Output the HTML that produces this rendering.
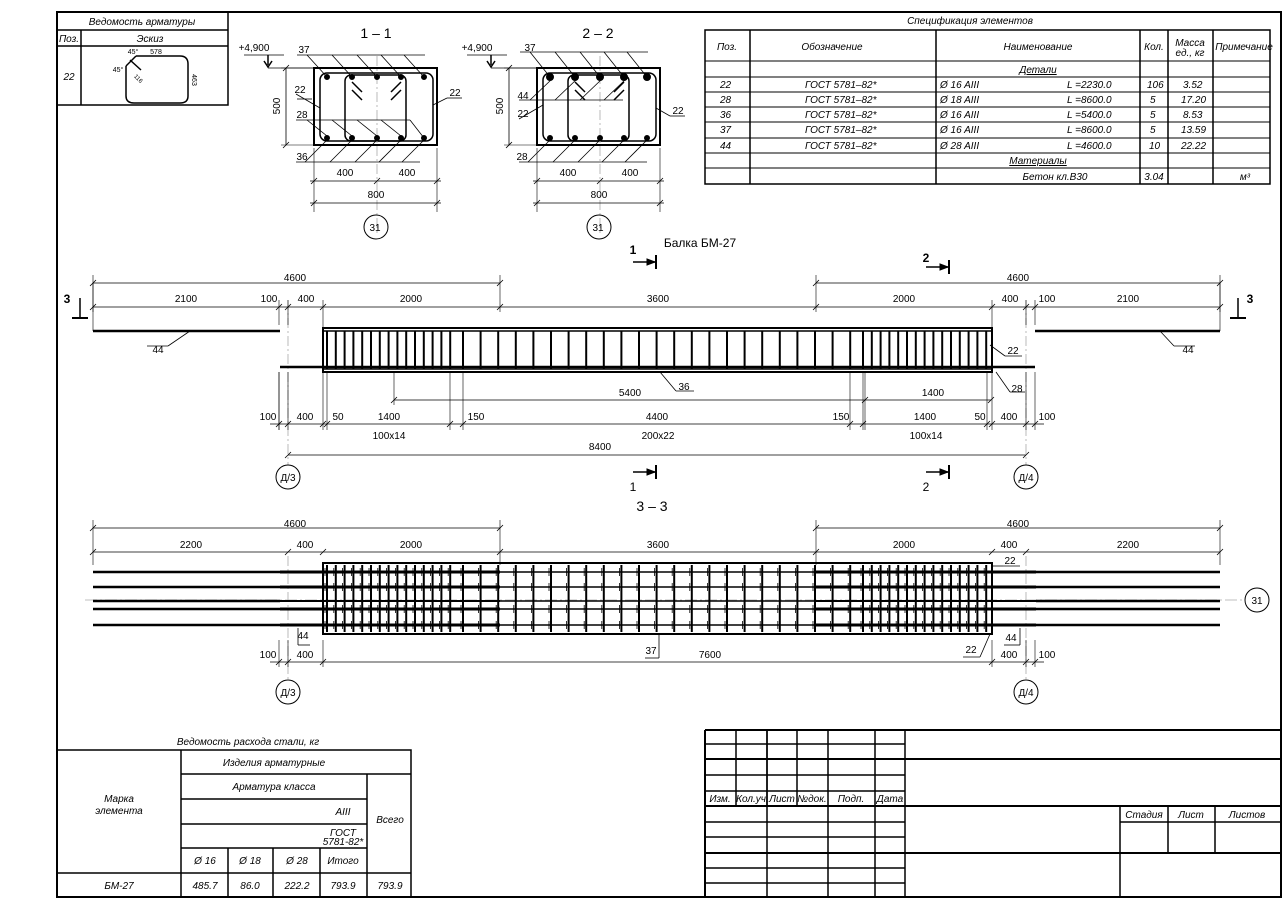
<!DOCTYPE html>
<html><head><meta charset="utf-8"><style>
html,body{margin:0;padding:0;background:#fff;}
svg{display:block;}
text{font-family:"Liberation Sans",sans-serif;fill:#000;}
.t{font-size:10px;}
.i{font-size:10px;font-style:italic;}
.s{font-size:9px;}
</style></head><body>
<svg id="sv" width="1288" height="912" viewBox="0 0 1288 912" xmlns="http://www.w3.org/2000/svg">
<g id="g" stroke="#000" fill="none"></g>
<g text-anchor="middle">
<!-- top-left table -->
<text class="i" x="142" y="25">Ведомость арматуры</text>
<text class="i" x="69" y="42">Поз.</text>
<text class="i" x="150" y="42">Эскиз</text>
<text class="i" x="69" y="80" font-size="8">22</text>
<text x="133" y="54" font-size="7">45°</text>
<text x="156" y="54" font-size="7">578</text>
<text x="118" y="72" font-size="7">45°</text>
<text x="192" y="80" font-size="7" transform="rotate(90 192 80)">463</text>
<text x="137" y="80" font-size="6" transform="rotate(45 137 80)">116</text>
<!-- section titles -->
<text x="376" y="38" font-size="14">1 – 1</text>
<text x="598" y="38" font-size="14">2 – 2</text>
<text class="t" x="254" y="51">+4,900</text>
<text class="t" x="477" y="51">+4,900</text>
<text class="t" x="304" y="53">37</text>
<text class="t" x="530" y="51">37</text>
<text class="t" x="300" y="93">22</text>
<text class="t" x="302" y="118">28</text>
<text class="t" x="302" y="160">36</text>
<text class="t" x="455" y="96">22</text>
<text class="t" x="523" y="99">44</text>
<text class="t" x="523" y="117">22</text>
<text class="t" x="522" y="160">28</text>
<text class="t" x="678" y="114">22</text>
<text class="t" x="280" y="106" transform="rotate(-90 280 106)">500</text>
<text class="t" x="503" y="106" transform="rotate(-90 503 106)">500</text>
<text class="t" x="345" y="176">400</text><text class="t" x="407" y="176">400</text>
<text class="t" x="376" y="198">800</text>
<text class="t" x="568" y="176">400</text><text class="t" x="630" y="176">400</text>
<text class="t" x="599" y="198">800</text>
<text class="t" x="375" y="231">31</text>
<text class="t" x="598" y="231">31</text>
<!-- spec table -->
<text class="i" x="970" y="24">Спецификация элементов</text>
<text class="i" x="727" y="50">Поз.</text>
<text class="i" x="832" y="50">Обозначение</text>
<text class="i" x="1038" y="50">Наименование</text>
<text class="i" x="1154" y="50">Кол.</text>
<text class="i" x="1190" y="46" font-size="9">Масса</text>
<text class="i" x="1190" y="56" font-size="9">ед., кг</text>
<text class="i" x="1244" y="50" font-size="9">Примечание</text>
<text class="i" x="1038" y="73" text-decoration="underline">Детали</text>
<text class="i" x="1038" y="164" text-decoration="underline">Материалы</text>
<text class="i" x="1055" y="180">Бетон кл.В30</text>
<text class="i" x="1154" y="180">3.04</text>
<text class="i" x="1245" y="180">м³</text>
</g>
<g id="spec" class="i"></g>
<g text-anchor="middle">
<text x="700" y="247" font-size="12">Балка БМ-27</text>
<text x="633" y="254" font-size="12" font-weight="bold">1</text>
<text x="926" y="262" font-size="12" font-weight="bold">2</text>
<text x="67" y="303" font-size="12" font-weight="bold">3</text>
<text x="1250" y="303" font-size="12" font-weight="bold">3</text>
<text x="633" y="491" font-size="12">1</text>
<text x="926" y="491" font-size="12">2</text>
<text x="652" y="511" font-size="14">3 – 3</text>
<!-- elevation dims -->
<text class="t" x="295" y="281">4600</text>
<text class="t" x="1018" y="281">4600</text>
<text class="t" x="186" y="302">2100</text>
<text class="t" x="269" y="302">100</text>
<text class="t" x="306" y="302">400</text>
<text class="t" x="411" y="302">2000</text>
<text class="t" x="658" y="302">3600</text>
<text class="t" x="904" y="302">2000</text>
<text class="t" x="1010" y="302">400</text>
<text class="t" x="1047" y="302">100</text>
<text class="t" x="1128" y="302">2100</text>
<text class="t" x="158" y="353">44</text>
<text class="t" x="1188" y="353">44</text>
<text class="t" x="1013" y="354">22</text>
<text class="t" x="1017" y="392">28</text>
<text class="t" x="684" y="390">36</text>
<text class="t" x="630" y="396">5400</text>
<text class="t" x="933" y="396">1400</text>
<text class="t" x="268" y="420">100</text>
<text class="t" x="305" y="420">400</text>
<text class="t" x="338" y="420">50</text>
<text class="t" x="389" y="420">1400</text>
<text class="t" x="476" y="420">150</text>
<text class="t" x="657" y="420">4400</text>
<text class="t" x="841" y="420">150</text>
<text class="t" x="925" y="420">1400</text>
<text class="t" x="980" y="420">50</text>
<text class="t" x="1009" y="420">400</text>
<text class="t" x="1047" y="420">100</text>
<text class="t" x="389" y="439">100x14</text>
<text class="t" x="658" y="439">200x22</text>
<text class="t" x="926" y="439">100x14</text>
<text class="t" x="600" y="450">8400</text>
<text class="t" x="288" y="481">Д/3</text>
<text class="t" x="1026" y="481">Д/4</text>
<!-- plan dims -->
<text class="t" x="295" y="527">4600</text>
<text class="t" x="1018" y="527">4600</text>
<text class="t" x="191" y="548">2200</text>
<text class="t" x="305" y="548">400</text>
<text class="t" x="411" y="548">2000</text>
<text class="t" x="658" y="548">3600</text>
<text class="t" x="904" y="548">2000</text>
<text class="t" x="1009" y="548">400</text>
<text class="t" x="1128" y="548">2200</text>
<text class="t" x="1010" y="564">22</text>
<text class="t" x="303" y="639">44</text>
<text class="t" x="1011" y="641">44</text>
<text class="t" x="651" y="654">37</text>
<text class="t" x="971" y="653">22</text>
<text class="t" x="268" y="658">100</text>
<text class="t" x="305" y="658">400</text>
<text class="t" x="710" y="658">7600</text>
<text class="t" x="1009" y="658">400</text>
<text class="t" x="1047" y="658">100</text>
<text class="t" x="288" y="696">Д/3</text>
<text class="t" x="1026" y="696">Д/4</text>
<text class="t" x="1257" y="604">31</text>
<!-- steel table -->
<text class="i" x="248" y="745">Ведомость расхода стали, кг</text>
<text class="i" x="274" y="766">Изделия арматурные</text>
<text class="i" x="274" y="790">Арматура класса</text>
<text class="i" x="119" y="802">Марка</text>
<text class="i" x="119" y="814">элемента</text>
<text class="i" x="390" y="823">Всего</text>
<text class="i" x="343" y="815">AIII</text>
<text class="i" x="343" y="836" font-size="8">ГОСТ</text>
<text class="i" x="343" y="845" font-size="8">5781-82*</text>
<text class="i" x="205" y="864">Ø 16</text>
<text class="i" x="250" y="864">Ø 18</text>
<text class="i" x="297" y="864">Ø 28</text>
<text class="i" x="343" y="864">Итого</text>
<text class="i" x="119" y="889">БМ-27</text>
<text class="i" x="205" y="889">485.7</text>
<text class="i" x="250" y="889">86.0</text>
<text class="i" x="297" y="889">222.2</text>
<text class="i" x="343" y="889">793.9</text>
<text class="i" x="390" y="889">793.9</text>
<!-- title block -->
<text class="i" x="720" y="802" font-size="9">Изм.</text>
<text class="i" x="751" y="802" font-size="9">Кол.уч</text>
<text class="i" x="782" y="802" font-size="9">Лист</text>
<text class="i" x="812" y="802" font-size="9">№док.</text>
<text class="i" x="851" y="802" font-size="9">Подп.</text>
<text class="i" x="890" y="802" font-size="9">Дата</text>
<text class="i" x="1144" y="818" font-size="9">Стадия</text>
<text class="i" x="1191" y="818" font-size="9">Лист</text>
<text class="i" x="1247" y="818" font-size="9">Листов</text>
</g>
<g class="i" font-size="9">
<text x="720" y="88">22</text><text x="805" y="88">ГОСТ 5781–82*</text><text x="940" y="88">Ø 16 AIII</text><text x="1067" y="88">L =2230.0</text><text x="1147" y="88">106</text><text x="1183" y="88">3.52</text>
<text x="720" y="103">28</text><text x="805" y="103">ГОСТ 5781–82*</text><text x="940" y="103">Ø 18 AIII</text><text x="1067" y="103">L =8600.0</text><text x="1150" y="103">5</text><text x="1181" y="103">17.20</text>
<text x="720" y="118">36</text><text x="805" y="118">ГОСТ 5781–82*</text><text x="940" y="118">Ø 16 AIII</text><text x="1067" y="118">L =5400.0</text><text x="1150" y="118">5</text><text x="1183" y="118">8.53</text>
<text x="720" y="133">37</text><text x="805" y="133">ГОСТ 5781–82*</text><text x="940" y="133">Ø 16 AIII</text><text x="1067" y="133">L =8600.0</text><text x="1150" y="133">5</text><text x="1181" y="133">13.59</text>
<text x="720" y="149">44</text><text x="805" y="149">ГОСТ 5781–82*</text><text x="940" y="149">Ø 28 AIII</text><text x="1067" y="149">L =4600.0</text><text x="1149" y="149">10</text><text x="1181" y="149">22.22</text>
</g>
</svg>
<script>
var s='';
function L(x1,y1,x2,y2,w,c,d){s+='<line x1="'+x1+'" y1="'+y1+'" x2="'+x2+'" y2="'+y2+'" stroke-width="'+(w||1)+'"'+(c?' stroke="'+c+'"':'')+(d?' stroke-dasharray="'+d+'"':'')+'/>';}
function R(x,y,w,h,sw,rx){s+='<rect x="'+x+'" y="'+y+'" width="'+w+'" height="'+h+'" stroke-width="'+(sw||1)+'"'+(rx?' rx="'+rx+'"':'')+'/>';}
function C(x,y,r,f){s+='<circle cx="'+x+'" cy="'+y+'" r="'+r+'"'+(f?' fill="#000"':'')+'/>';}
function tick(x,y){L(x-3,y+3,x+3,y-3,0.8);}
function dimH(xs,y,ext){L(xs[0]-(ext||0),y,xs[xs.length-1]+(ext||0),y,0.8);xs.forEach(function(x){tick(x,y);});}
// frame
R(57,12,1224,885,2);
// top-left table
R(57,12,171,93,1.5);L(57,30,228,30,1.5);L(57,46,228,46,1.5);L(81,30,81,105,1.5);
s+='<path d="M136,56 L180,56 Q188,56 188,64 L188,96 Q188,103 180,103 L134,103 Q126,103 126,96 L126,66" stroke-width="1.5"/>';
L(126,66,136,56,1.5);L(130,60,141,70,1.5);
// spec table
R(705,30,565,154,1.5);
[61,77,92,107,122,138,153,168].forEach(function(y){L(705,y,1270,y,1);});
[750,936,1140,1168,1213].forEach(function(x){L(x,30,x,184,1.5);});
// sections
function sect(o,two){
 R(314+o,68,123,77,2);
 s+='<rect x="'+(320+o)+'" y="73" width="113" height="68" rx="7" stroke-width="1.5"/>';
 s+='<rect x="'+(345+o)+'" y="75" width="61" height="66" rx="6" stroke-width="1.5"/>';
 L(377+o,56,377+o,235,0.8,'#aaa','10,3,2,3');
 [327,352,377,401,424].forEach(function(x){C(x+o,77,two?3.5:2.5,1);C(x+o,138,2.5,1);});
 L(352+o,82,362+o,92,1.5);L(401+o,82,391+o,92,1.5);L(352+o,90,362+o,100,1.5);L(401+o,90,391+o,100,1.5);
 L(286+o,68,286+o,145,0.8);L(281+o,68,314+o,68,0.6);L(281+o,145,314+o,145,0.6);tick(286+o,68);tick(286+o,145);
 L(314+o,148,314+o,212,0.6);L(437+o,148,437+o,212,0.6);
 dimH([314+o,377+o,437+o],181,4);dimH([314+o,437+o],203,4);
 C(376+o,227,12);
 L(268+o,55,268+o,65,1.5);s+='<path d="M'+(264+o)+',61 L'+(268+o)+',67 L'+(272+o)+',61" stroke-width="1.5"/>';L(244+o,55,284+o,55,0.8);L(268+o,68,314+o,68,0.8);
 // leaders
 if(!two){
 L(297+o,55,425+o,55,0.8);[327,352,377,401,424].forEach(function(x){L(x-20+o,55,x+o,77,0.8);});
 L(296+o,94,320+o,108,0.8);L(297+o,99,312+o,99,0.8);
 L(296+o,120,410+o,120,0.8);[327,352,377,401].forEach(function(x){L(x-20+o,120,x+o,136,0.8);});L(424+o,138,410+o,120,0.8);
 L(296+o,162,420+o,162,0.8);[327,352,377,401,424].forEach(function(x){L(x-22+o,162,x+o,140,0.8);});
 L(433+o,105,447+o,98,0.8);L(447+o,98,462+o,98,0.8);
 } else {
 L(297+o,52,425+o,52,0.8);[327,352,377,401,424].forEach(function(x){L(x-20+o,52,x+o,77,0.8);});
 L(296+o,100,400+o,100,0.8);[327,352,377,401].forEach(function(x){L(x-20+o,100,x+o+2,79,0.8);});
 L(296+o,119,320+o,105,0.8);
 L(296+o,162,424+o,162,0.8);[327,352,377,401,424].forEach(function(x){L(x-22+o,162,x+o,140,0.8);});
 L(433+o,108,447+o,116,0.8);L(447+o,116,462+o,116,0.8);
 }
}
sect(0,false);sect(223,true);
// section marks
function mk(x,y){L(x-22,y,x,y,1.5);s+='<path d="M'+(x-8)+','+(y-3)+' L'+x+','+y+' L'+(x-8)+','+(y+3)+'z" fill="#000"/>';L(x+1,y-7,x+1,y+7,2);}
mk(655,262);mk(948,267);mk(655,472);mk(948,472);
L(80,298,80,318,1.5);L(72,318,88,318,2);L(1238,298,1238,318,1.5);L(1230,318,1246,318,2);
// elevation
var A=288,B=1026;
L(A,300,A,465,0.8,'#aaa','10,3,2,3');L(B,300,B,465,0.8,'#aaa','10,3,2,3');
C(A,477,12);C(B,477,12);
dimH([93,500],283);dimH([816,1220],283);
dimH([93,279,288,323,500,816,992,1026,1035,1220],307);
[93,500,816,1220].forEach(function(x){L(x,275,x,312,0.6);});
[93,1220].forEach(function(x){L(x,283,x,331,0.6);});
L(279,300,279,325,0.6);L(288,300,288,325,0.6);L(323,300,323,328,0.6);L(992,300,992,328,0.6);L(1035,300,1035,325,0.6);L(1026,300,1026,325,0.6);
L(93,331,280,331,2.5);L(1035,331,1220,331,2.5);
L(280,367,1035,367,2.5);
R(323,328,669,44,2);L(323,331,992,331,1.5);L(323,369,992,369,1.5);
var st=[];for(var i=0;i<=14;i++)st.push(327+i*8.8);for(i=0;i<=22;i++)st.push(463+i*17.6);for(i=0;i<=14;i++)st.push(863+i*8.8);
st.forEach(function(x){L(x,331,x,369,2);});
// leaders elevation
L(147,346,168,346,0.8);L(168,346,190,331,0.8);
L(1174,346,1195,346,0.8);L(1174,346,1160,331,0.8);
L(990,345,1005,356,0.8);L(1005,356,1022,356,0.8);
L(996,372,1010,392,0.8);L(1010,392,1025,392,0.8);
L(676,391,694,391,0.8);L(676,391,660,372,0.8);
// lower dims
[270,279,288,323,327,450,463,850,863,987,992,1026,1035].forEach(function(x){L(x==270?279:x,372,x==270?279:x,430,0.6);});
dimH([394,865,991],400);L(394,372,394,405,0.6);L(865,372,865,430,0.6);
dimH([279,288,323,327,450,463,850,863,987,992,1026,1035],424,9);
dimH([288,1026],455);
// plan
L(A,556,A,682,0.8,'#aaa','10,3,2,3');L(B,556,B,682,0.8,'#aaa','10,3,2,3');
L(85,600,1245,600,0.8,'#aaa','12,3,2,3');C(1257,600,12);
C(A,692,12);C(B,692,12);
dimH([93,500],528);dimH([816,1220],528);
dimH([93,288,323,500,816,992,1026,1220],552);
[93,500,816,1220].forEach(function(x){L(x,520,x,565,0.6);});
R(323,563,669,71,2);
[572,587,601,609,625].forEach(function(y){L(93,y,280,y,2.5);L(1036,y,1220,y,2.5);L(280,y,500,y,y==601?2:3);L(816,y,1036,y,y==601?2:3);L(500,y,816,y,1.5);});
st.forEach(function(x){L(x,565,x,632,2);[572,587,609,625].forEach(function(y){L(x-2,y-4,x-2,y+4,0.8);});});
// plan leaders
L(298,628,298,645,0.8);L(298,645,310,645,0.8);
L(1020,628,1020,645,0.8);L(1004,645,1020,645,0.8);
L(645,658,659,658,0.8);L(659,658,659,634,0.8);
L(992,566,1003,566,0.8);L(1003,566,1020,566,0.8);
L(963,657,980,657,0.8);L(980,657,990,634,0.8);
[279,288,323,992,1026,1035].forEach(function(x){L(x,640,x,667,0.6);});
dimH([279,288,323,992,1026,1035],662,9);
// steel table
R(57,750,354,147,1.5);
L(181,750,181,897,1.5);L(367,774,367,897,1.5);L(181,774,411,774,1.5);
L(181,799,367,799,1.5);L(181,824,367,824,1.5);L(181,848,367,848,1.5);L(57,873,411,873,1.5);
[228,273,320].forEach(function(x){L(x,848,x,897,1.5);});
// title block
var x0=705,xr=1280;
L(x0,730,xr,730,2);L(x0,730,x0,897,2);
[744,775,791,822,837,868,883].forEach(function(y){L(x0,y,905,y,1.5);});
[759,806,853].forEach(function(y){L(x0,y,xr,y,2);});
[736,767,797].forEach(function(x){L(x,730,x,806,1.5);});
[767,828,875,905].forEach(function(x){L(x,730,x,897,1.5);});
L(1120,806,1120,897,1.5);L(1168,806,1168,853,1.5);L(1215,806,1215,853,1.5);L(1120,822,xr,822,1.5);
document.getElementById('g').innerHTML=s;
</script>
</body></html>
